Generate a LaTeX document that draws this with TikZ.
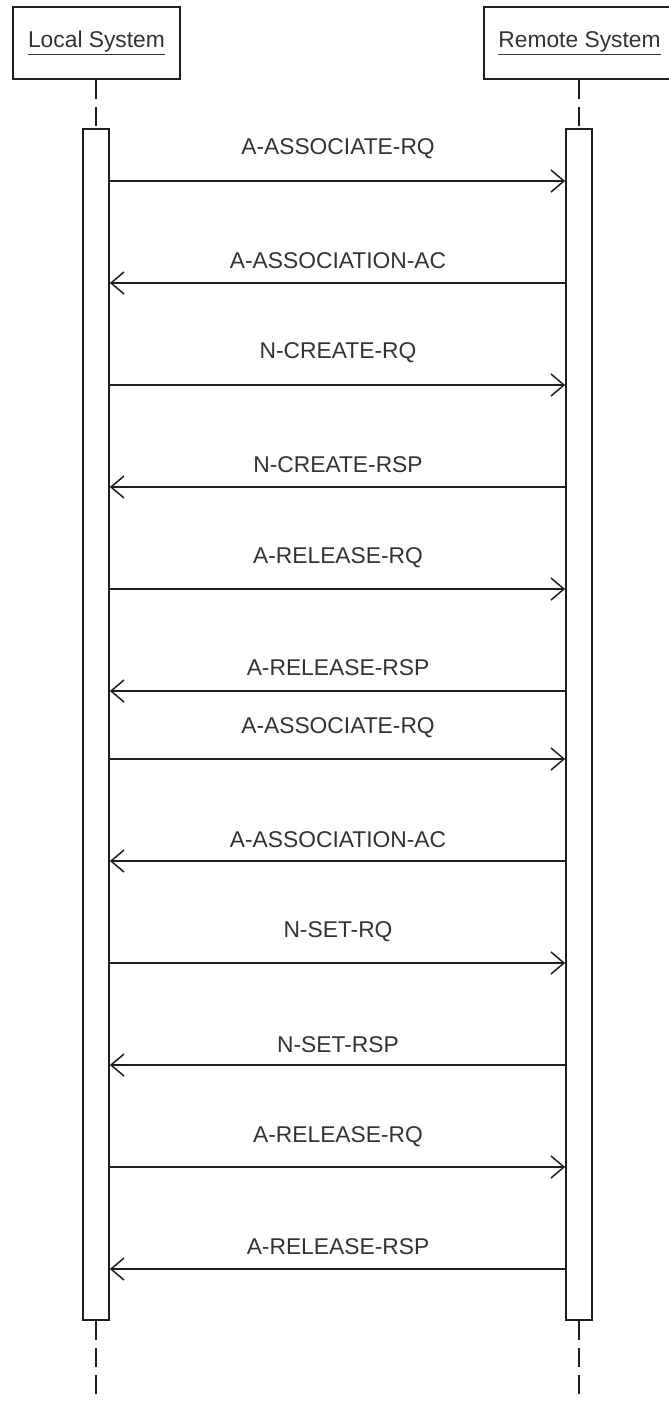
\documentclass[tikz,border=0pt]{standalone}
\usepackage{fontspec}
\setmainfont{Liberation Sans}
\usetikzlibrary{arrows.meta}
\definecolor{ink}{HTML}{1E1E1E}
\definecolor{txt}{HTML}{333333}
\begin{document}
\begin{tikzpicture}[x=1pt,y=-1pt,
  objbox/.style={draw=ink,line width=1.7pt,fill=white,minimum height=72pt,inner sep=0pt,text=txt,font=\fontsize{22.8}{26}\selectfont},
  actbar/.style={draw=ink,line width=1.7pt,fill=white,minimum width=26pt,inner sep=0pt},
  lifeline/.style={draw=ink,line width=1.6pt,dash pattern=on 19pt off 8pt},
  msg/.style={draw=ink,line width=1.7pt,-{Straight Barb[length=13pt,width=22pt,line width=1.5pt]}},
  msglabel/.style={text=txt,font=\fontsize{22.8}{26}\selectfont,inner sep=0pt}
]
\useasboundingbox (0,0) rectangle (669,1401);
\clip (0,0) rectangle (669,1401);
\fill[white] (0,0) rectangle (669,1401);

\node[objbox,minimum width=167pt] (loc) at (96.5,43) {\underline{Local System}};
\node[objbox,minimum width=191pt] (rem) at (579.5,43) {\underline{Remote System}};

\coordinate (lend) at (96,1405);
\coordinate (rend) at (579,1405);

\node[actbar,minimum height=1191pt] (lbar) at (96,724.5) {};
\node[actbar,minimum height=1191pt] (rbar) at (579,724.5) {};

\draw[lifeline] (loc.south -| lbar.north) -- (lbar.north);
\draw[lifeline] (rem.south -| rbar.north) -- (rbar.north);
\draw[lifeline] (lbar.south) -- (lend);
\draw[lifeline] (rbar.south) -- (rend);

% messages: y of arrow / y of label / direction
\foreach \i/\ay/\ly/\dir/\lab in {
  1/181/149/r/A-ASSOCIATE-RQ,
  2/283/261/l/A-ASSOCIATION-AC,
  3/385/353/r/N-CREATE-RQ,
  4/487/465/l/N-CREATE-RSP,
  5/589/558/r/A-RELEASE-RQ,
  6/691/668/l/A-RELEASE-RSP,
  7/759/728/r/A-ASSOCIATE-RQ,
  8/861/840/l/A-ASSOCIATION-AC,
  9/963/932/r/N-SET-RQ,
  10/1065/1045/l/N-SET-RSP,
  11/1167/1137/r/A-RELEASE-RQ,
  12/1269/1247/l/A-RELEASE-RSP}{
  \coordinate (m\i) at (338,\ay);
  \node[msglabel] (t\i) at (338,\ly) {\lab};
  \if r\dir
    \draw[msg] (lbar.east |- m\i) -- (rbar.west |- m\i);
  \else
    \draw[msg] (rbar.west |- m\i) -- (lbar.east |- m\i);
  \fi
}
\end{tikzpicture}
\end{document}
